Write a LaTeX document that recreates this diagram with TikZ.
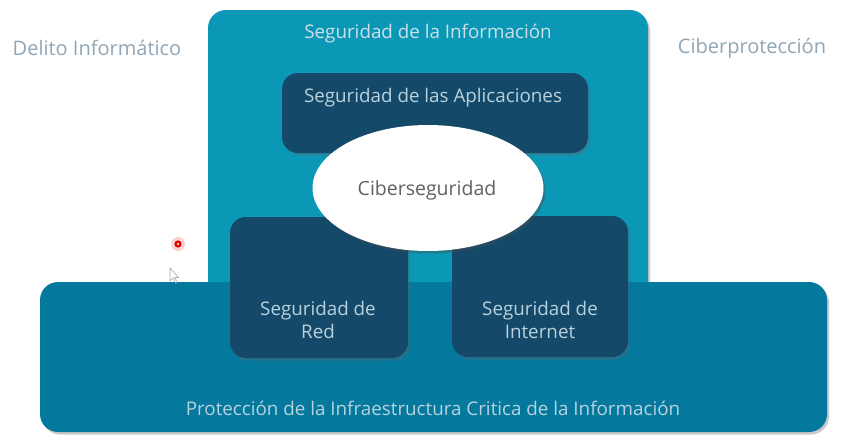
\documentclass[tikz,border=0pt]{standalone}
\usepackage{fontspec}
\setmainfont{Open Sans}
\usetikzlibrary{shadows,shapes.geometric}
\definecolor{infoteal}{HTML}{0A98B6}
\definecolor{infrablue}{HTML}{05789E}
\definecolor{darkpanel}{HTML}{14496A}
\definecolor{paneltext}{HTML}{B8D2DD}
\definecolor{sidetext}{HTML}{8FA6B6}
\definecolor{coretext}{HTML}{5E6266}
\tikzset{
  x=1pt, y=-1pt,
  softshadow/.style={drop shadow={shadow xshift=2pt, shadow yshift=-2.5pt, opacity=0.35, fill=black!60}},
  bigpanel/.style={softshadow, rounded corners=18pt},
  subpanel/.style={rounded corners=16pt, fill=darkpanel, softshadow},
  label/.style={font=\fontsize{18.8}{22.5}\selectfont, text=paneltext, align=center},
  sidelabel/.style={font=\fontsize{20}{24}\selectfont, text=sidetext},
}
\begin{document}
\begin{tikzpicture}
\useasboundingbox[fill=white] (0,0) rectangle (857,442);
% outer domains
\fill[infoteal, bigpanel] (208,10) rectangle (648,300);
\fill[infrablue, bigpanel] (40,282) rectangle (827,432);
\fill[infoteal] (208,270) rectangle (648,282);
% inner panels
\fill[subpanel] (282,73) rectangle (588,153);
\fill[subpanel] (230,217) rectangle (408,358);
\fill[subpanel] (452,216) rectangle (628,357);
% core ellipse
\node[ellipse, fill=white, minimum width=231pt, minimum height=126pt, inner sep=0pt,
      drop shadow={shadow xshift=2pt, shadow yshift=-2.5pt, opacity=0.4, fill=black!70}]
      (core) at (428,188) {};
\node[font=\fontsize{19.5}{24}\selectfont, text=coretext] (coretxt) at (427,190) {Ciberseguridad};
% labels
\node[sidelabel] (delito) at (97,48) {Delito Informático};
\node[sidelabel] (ciber) at (752,48) {Ciberprotección};
\node[label, text=paneltext!70!white] (info) at (428,34) {Seguridad de la Información};
\node[label] (apps) at (433,98) {Seguridad de las Aplicaciones};
\node[label] (red) at (318,320) {Seguridad de\\Red};
\node[label] (inet) at (540,320) {Seguridad de\\Internet};
\node[label] (infra) at (433,408) {Protección de la Infraestructura Critica de la Información};
% pointer marks
\fill[red!30, opacity=0.6] (178,244) circle (7pt);
\fill[red!85!black] (178,244) circle (3.6pt);
\fill[white!80!red] (178,244) circle (1.4pt);
\draw[gray!70, fill=white, line width=0.6pt, line join=round]
  (170,268) -- (170,281) -- (173,278) -- (175.5,283) -- (177,282.3) -- (174.7,277.5) -- (178.5,277.5) -- cycle;
\end{tikzpicture}
\end{document}
